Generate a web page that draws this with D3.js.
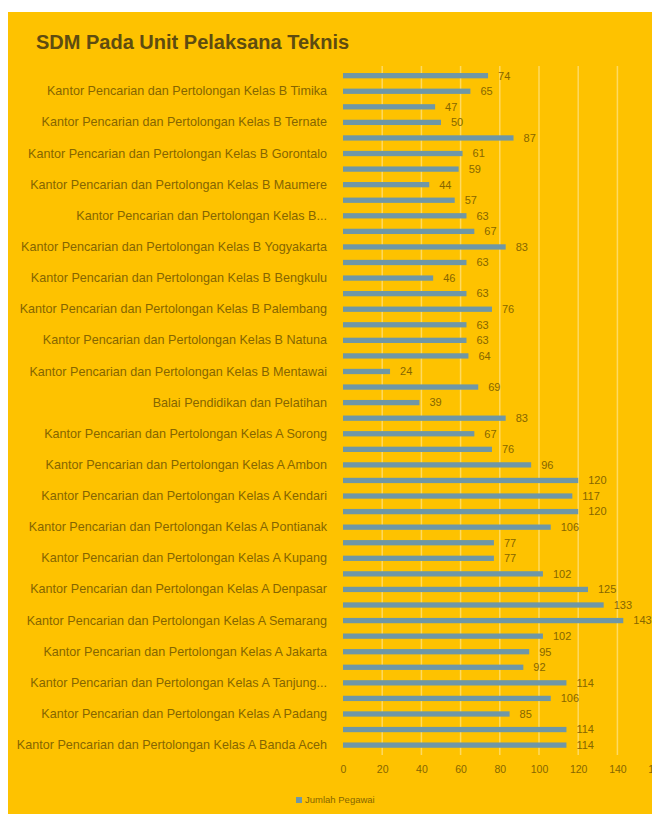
<!DOCTYPE html>
<html>
<head>
<meta charset="utf-8">
<script src="https://cdn.jsdelivr.net/npm/d3@7"></script>
<style>
  html, body { margin: 0; padding: 0; background: #ffffff; }
  svg { display: block; }
</style>
</head>
<body>
<div id="chart"></div>
<script>
// ---- data (top to bottom as drawn) ----
const categories = [
  "Kantor Pencarian dan Pertolongan Kelas B Merauke",
  "Kantor Pencarian dan Pertolongan Kelas B Timika",
  "Kantor Pencarian dan Pertolongan Kelas B Biak",
  "Kantor Pencarian dan Pertolongan Kelas B Ternate",
  "Kantor Pencarian dan Pertolongan Kelas B Palu",
  "Kantor Pencarian dan Pertolongan Kelas B Gorontalo",
  "Kantor Pencarian dan Pertolongan Kelas B Bima",
  "Kantor Pencarian dan Pertolongan Kelas B Maumere",
  "Kantor Pencarian dan Pertolongan Kelas B Cilacap",
  "Kantor Pencarian dan Pertolongan Kelas B Pangkalpinang",
  "Kantor Pencarian dan Pertolongan Kelas B Banten",
  "Kantor Pencarian dan Pertolongan Kelas B Yogyakarta",
  "Kantor Pencarian dan Pertolongan Kelas B Jambi",
  "Kantor Pencarian dan Pertolongan Kelas B Bengkulu",
  "Kantor Pencarian dan Pertolongan Kelas B Mamuju",
  "Kantor Pencarian dan Pertolongan Kelas B Palembang",
  "Kantor Pencarian dan Pertolongan Kelas B Tarakan",
  "Kantor Pencarian dan Pertolongan Kelas B Natuna",
  "Kantor Pencarian dan Pertolongan Kelas B Cirebon",
  "Kantor Pencarian dan Pertolongan Kelas B Mentawai",
  "Kantor Pencarian dan Pertolongan Kelas B Palangkaraya",
  "Balai Pendidikan dan Pelatihan",
  "Kantor Pencarian dan Pertolongan Kelas A Jayapura",
  "Kantor Pencarian dan Pertolongan Kelas A Sorong",
  "Kantor Pencarian dan Pertolongan Kelas A Manado",
  "Kantor Pencarian dan Pertolongan Kelas A Ambon",
  "Kantor Pencarian dan Pertolongan Kelas A Makassar",
  "Kantor Pencarian dan Pertolongan Kelas A Kendari",
  "Kantor Pencarian dan Pertolongan Kelas A Balikpapan",
  "Kantor Pencarian dan Pertolongan Kelas A Pontianak",
  "Kantor Pencarian dan Pertolongan Kelas A Banjarmasin",
  "Kantor Pencarian dan Pertolongan Kelas A Kupang",
  "Kantor Pencarian dan Pertolongan Kelas A Mataram",
  "Kantor Pencarian dan Pertolongan Kelas A Denpasar",
  "Kantor Pencarian dan Pertolongan Kelas A Surabaya",
  "Kantor Pencarian dan Pertolongan Kelas A Semarang",
  "Kantor Pencarian dan Pertolongan Kelas A Bandung",
  "Kantor Pencarian dan Pertolongan Kelas A Jakarta",
  "Kantor Pencarian dan Pertolongan Kelas A Lampung",
  "Kantor Pencarian dan Pertolongan Kelas A Tanjung Pinang",
  "Kantor Pencarian dan Pertolongan Kelas A Pekanbaru",
  "Kantor Pencarian dan Pertolongan Kelas A Padang",
  "Kantor Pencarian dan Pertolongan Kelas A Medan",
  "Kantor Pencarian dan Pertolongan Kelas A Banda Aceh"
];
const jumlahPegawai = [
  74, 65, 47, 50, 87, 61, 59, 44, 57, 63, 67, 83, 63, 46, 63, 76,
  63, 63, 64, 24, 69, 39, 83, 67, 76, 96, 120, 117, 120, 106, 77, 77,
  102, 125, 133, 143, 102, 95, 92, 114, 106, 85, 114, 114
];
const xTicks = [0, 20, 40, 60, 80, 100, 120, 140, 160];
const titleText = "SDM Pada Unit Pelaksana Teknis";
const seriesName = "Jumlah Pegawai";

// ---- layout ----
const W = 652, H = 817;
const gold = "#FEC200";
const barColor = "#6F97A6";
const textColor = "#866600";
const titleColor = "#5E4C10";
const font = "Liberation Sans, Arial, sans-serif";

const svg = d3.select("#chart").append("svg")
  .attr("width", W).attr("height", H);

svg.append("rect").attr("x", 8).attr("y", 12)
  .attr("width", W - 8).attr("height", H - 12 - 3)
  .attr("fill", gold);

svg.append("text")
  .attr("x", 36).attr("y", 49)
  .attr("font-family", font)
  .attr("font-weight", "bold")
  .attr("font-size", 20)
  .attr("fill", titleColor)
  .text(titleText);

const x = d3.scaleLinear().domain([0, 160]).range([343, 656.6]);
const y = d3.scaleBand().domain(categories)
  .range([67.9, 752.9]).paddingInner(0.66).paddingOuter(0.33);

// gridlines
svg.append("g").selectAll("line").data(xTicks.filter(d => d > 0)).join("line")
  .attr("x1", d => x(d)).attr("x2", d => x(d))
  .attr("y1", 66).attr("y2", 755)
  .attr("stroke", "#FFE07A").attr("stroke-width", 1.5).attr("opacity", 0.8);

// bars
svg.append("g").selectAll("rect").data(categories).join("rect")
  .attr("x", x(0))
  .attr("y", d => y(d))
  .attr("width", (d, i) => x(jumlahPegawai[i]) - x(0))
  .attr("height", y.bandwidth())
  .attr("fill", barColor);

// value labels
svg.append("g").selectAll("text").data(categories).join("text")
  .attr("x", (d, i) => x(jumlahPegawai[i]) + 10)
  .attr("y", d => y(d) + y.bandwidth() / 2)
  .attr("dy", "0.35em")
  .attr("font-family", font)
  .attr("font-size", 11)
  .attr("fill", textColor)
  .text((d, i) => jumlahPegawai[i]);

// category axis (every other label, as in the reference)
function truncate(s) {
  if (s.length <= 52) return s;
  const words = s.split(" ");
  while (words.join(" ").length > 49) words.pop();
  return words.join(" ") + "...";
}
const yAxis = d3.axisLeft(y)
  .tickValues(categories.filter((d, i) => i % 2 === 1))
  .tickSize(0).tickPadding(0)
  .tickFormat(truncate);
const gy = svg.append("g").attr("transform", "translate(327,0)").call(yAxis);
gy.select(".domain").remove();
gy.selectAll("text")
  .attr("font-family", font)
  .attr("font-size", 12.6)
  .attr("fill", textColor);

// x axis
const xAxis = d3.axisBottom(x).tickValues(xTicks).tickSize(0).tickPadding(0);
const gx = svg.append("g").attr("transform", "translate(0,766)").call(xAxis);
gx.select(".domain").remove();
gx.selectAll("text")
  .attr("font-family", font)
  .attr("font-size", 10.5)
  .attr("fill", textColor);

// legend
const lg = svg.append("g").attr("transform", "translate(296,800)");
lg.append("rect").attr("x", 0).attr("y", -3).attr("width", 6).attr("height", 6).attr("fill", barColor);
lg.append("text").attr("x", 9).attr("y", 0).attr("dy", "0.35em")
  .attr("font-family", font)
  .attr("font-size", 9.5).attr("fill", textColor)
  .text(seriesName);
</script>
</body>
</html>
